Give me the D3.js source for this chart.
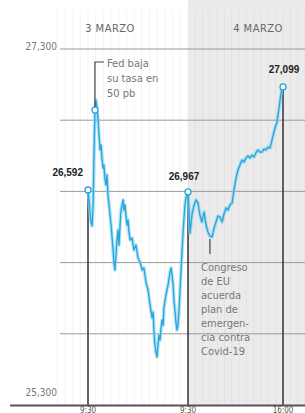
<!DOCTYPE html>
<html><head><meta charset="utf-8">
<script src="https://cdn.jsdelivr.net/npm/d3@7"></script>
<style>html,body{margin:0;padding:0;background:#fff;}svg{display:block;}</style>
</head><body>
<svg id="c" width="305" height="413"></svg>
<script>
// ---- data ----
const days = ["3 MARZO", "4 MARZO"];
const day1Minutes = [0,4,8,12,16,20,23,27,31,35,39,43,47,51,55,59,62,66,70,74,78,82,86,90,94,98,101,105,109,113,117,121,125,129,133,137,140,144,148,152,156,160,164,172,179,187,195,203,211,218,226,234,242,250,254,257,261,265,269,273,277,281,285,289,293,296,304,312,320,324,328,332,335,339,343,347,351,355,359,363,367,371,374,378,382,386,390];
const day1Values = [26508,26452,26384,26328,26306,26424,26676,26957,27013,26969,26912,26817,26733,26761,26676,26631,26648,26575,26536,26592,26480,26424,26367,26311,26238,26171,26103,26058,26143,26227,26283,26199,26311,26395,26424,26452,26395,26424,26367,26311,26339,26272,26227,26238,26171,26199,26126,26103,26058,26070,25991,25946,25862,25789,25822,25721,25637,25598,25570,25637,25693,25665,25733,25778,25749,25845,25918,25974,26047,26070,26030,25974,25890,25834,25766,25721,25749,25834,25946,26058,26171,26272,26339,26424,26463,26480,26497];
const day2Minutes = [0,4,8,12,16,25,33,41,49,57,66,74,82,90,99,107,115,123,131,140,148,156,164,172,181,189,197,205,213,222,230,238,246,255,263,271,279,287,296,304,312,320,328,337,345,353,361,365,369,374,378,382,386,390];
const day2Values = [26497,26395,26266,26311,26367,26424,26452,26435,26367,26328,26384,26311,26272,26249,26244,26294,26328,26362,26356,26328,26373,26407,26395,26424,26435,26508,26575,26620,26648,26676,26665,26688,26699,26688,26704,26693,26716,26733,26721,26721,26738,26733,26749,26744,26789,26834,26873,26884,26929,26969,27013,27053,27081,27087];
const yTicks = [27300, 26900, 26500, 26100, 25700, 25300];
const yTickLabels = ["27,300", "", "", "", "", "25,300"];
const xTickLabels = ["9:30", "9:30", "16:00"];
const valueLabels = ["26,592", "26,967", "27,099"];
const fedNote = ["Fed baja", "su tasa en", "50 pb"];
const congresoNote = ["Congreso", "de EU", "acuerda", "plan de", "emergen-", "cia contra", "Covid-19"];

// ---- build ----
const pts = day1Minutes.map((m,i)=>({t:m, v:day1Values[i]}))
  .concat(day2Minutes.slice(1).map((m,i)=>({t:390+m, v:day2Values[i+1]})));

const svg = d3.select("#c");
const x = d3.scaleLinear().domain([0,390,780]).range([88,188,283]);
const y = d3.scaleLinear().domain([25300,27300]).range([405,49]);
const font = "'Liberation Sans Narrow','DejaVu Sans Condensed','Liberation Sans',sans-serif";

// shaded second day
svg.append("rect").attr("x", x(390)).attr("y", 0).attr("width", 305 - x(390)).attr("height", y(25300))
  .attr("fill", "#ebebeb");

// faint vertical grid
const vg = d3.range(-120, 900, 30);
svg.append("g").selectAll("line").data(vg).join("line")
  .attr("x1", d=>x(d)).attr("x2", d=>x(d)).attr("y1", 10).attr("y2", y(25300))
  .attr("stroke", "rgba(200,150,150,0.12)").attr("stroke-width", 1);

// horizontal grid
svg.append("g").selectAll("line").data(yTicks.slice(0,5)).join("line")
  .attr("x1", 60).attr("x2", 305).attr("y1", d=>y(d)).attr("y2", d=>y(d))
  .attr("stroke", "#9a9a9a").attr("stroke-width", 1);

// y labels
svg.append("g").selectAll("text").data(yTicks.map((d,i)=>({d, l:yTickLabels[i]})).filter(o=>o.l))
  .join("text")
  .attr("x", 57).attr("y", o=> o.d===27300 ? y(o.d)+1 : y(o.d)-9)
  .attr("text-anchor", "end").attr("font-family", font).attr("font-size", 10)
  .attr("fill", "#777").text(o=>o.l);

// day headers
svg.append("g").selectAll("text").data(days).join("text")
  .attr("x", (d,i)=> i===0 ? 110 : 258).attr("y", 32)
  .attr("text-anchor", "middle").attr("font-family", font).attr("font-size", 11)
  .attr("letter-spacing", 0.5).attr("fill", "#666").text(d=>d);

// vertical markers
const markers = [
  {t:0, v:day1Values[0]},
  {t:390, v:day2Values[0]},
  {t:780, v:day2Values[day2Values.length-1]}
];
svg.append("g").selectAll("line").data(markers).join("line")
  .attr("x1", d=>x(d.t)).attr("x2", d=>x(d.t)).attr("y1", d=>y(d.v)).attr("y2", y(25300))
  .attr("stroke", "#333").attr("stroke-width", 1.5);

// bottom axis
svg.append("line").attr("x1", 10).attr("x2", 305).attr("y1", y(25300)+0.5).attr("y2", y(25300)+0.5)
  .attr("stroke", "#555").attr("stroke-width", 2);
svg.append("g").selectAll("text").data([0,390,780]).join("text")
  .attr("x", d=>x(d)).attr("y", 412.5).attr("text-anchor", "middle")
  .attr("font-family", font).attr("font-size", 8).attr("fill", "#555")
  .text((d,i)=>xTickLabels[i]);

// line
const line = d3.line().x(d=>x(d.t)).y(d=>y(d.v));
svg.append("path").datum(pts).attr("d", line).attr("fill", "none")
  .attr("stroke", "#8fd3f0").attr("stroke-width", 3.5).attr("stroke-linejoin", "round").attr("opacity", 0.7);
svg.append("path").datum(pts).attr("d", line).attr("fill", "none")
  .attr("stroke", "#25a6dd").attr("stroke-width", 1.3).attr("stroke-linejoin", "round");

// Fed annotation
const fed = pts[7];
svg.append("path")
  .attr("d", `M${x(fed.t)},${y(fed.v)-3} V62 H104`)
  .attr("fill", "none").attr("stroke", "#444").attr("stroke-width", 1.2);
svg.append("g").selectAll("text").data(fedNote).join("text")
  .attr("x", 107).attr("y", (d,i)=>67 + i*15)
  .attr("font-family", font).attr("font-size", 11).attr("fill", "#777").text(d=>d);

// Congreso annotation
const cg = {t:390+90, v:26249};
svg.append("line").attr("x1", x(cg.t)).attr("x2", x(cg.t)).attr("y1", y(cg.v)+3).attr("y2", 254)
  .attr("stroke", "#444").attr("stroke-width", 1.2);
svg.append("g").selectAll("text").data(congresoNote).join("text")
  .attr("x", 201).attr("y", (d,i)=>271 + i*14)
  .attr("font-family", font).attr("font-size", 11).attr("fill", "#777").text(d=>d);

// circles
svg.append("g").selectAll("circle").data(markers.concat([fed])).join("circle")
  .attr("cx", d=>x(d.t)).attr("cy", d=>y(d.v)).attr("r", 3)
  .attr("fill", "#fff").attr("stroke", "#25a6dd").attr("stroke-width", 1.3);

// value labels
const lblPos = [
  {x: x(0)-5, y: y(day1Values[0])-14, a:"end"},
  {x: x(390)-4, y: y(day2Values[0])-12, a:"middle"},
  {x: x(780)+1, y: y(day2Values[day2Values.length-1])-14, a:"middle"}
];
svg.append("g").selectAll("text").data(valueLabels).join("text")
  .attr("x", (d,i)=>lblPos[i].x).attr("y", (d,i)=>lblPos[i].y)
  .attr("text-anchor", (d,i)=>lblPos[i].a)
  .attr("font-family", "'Liberation Sans','DejaVu Sans',sans-serif").attr("font-weight", "bold")
  .attr("font-size", 10).attr("fill", "#222").text(d=>d);
</script>
</body></html>
